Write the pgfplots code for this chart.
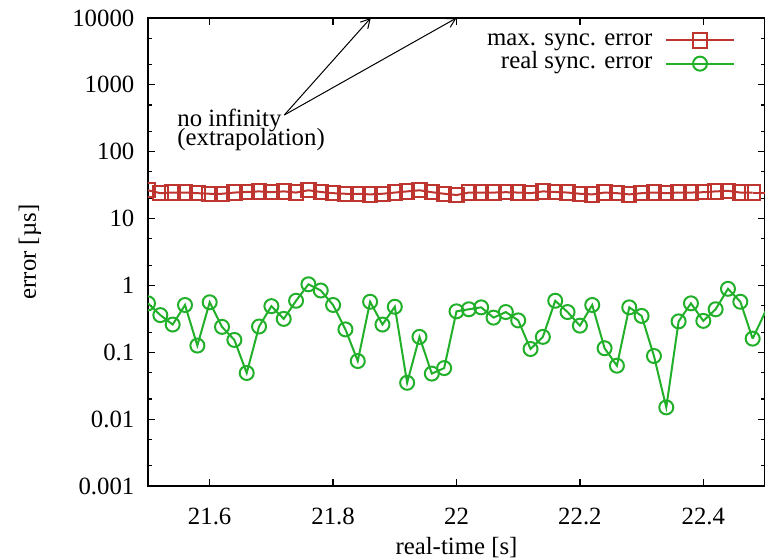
\documentclass[border=0pt]{standalone}
\usepackage{pgfplots}
\pgfplotsset{compat=1.18}
\usepackage{fontspec}
\setmainfont{Liberation Serif}
\usetikzlibrary{arrows.meta}
\definecolor{gpred}{RGB}{190,52,46}
\definecolor{gpgreen}{RGB}{34,176,42}
\newcommand{\gpfont}{\fontsize{12.4pt}{14.8pt}\selectfont}
\begin{document}
\begin{tikzpicture}[font=\gpfont]
\begin{axis}[
  scale only axis,
  width=308.5pt, height=234pt,
  ymode=log,
  xmin=21.5, xmax=22.5,
  ymin=0.001, ymax=10000,
  xtick={21.6,21.8,22,22.2,22.4},
  xticklabels={21.6,21.8,22,22.2,22.4},
  ytick={0.001,0.01,0.1,1,10,100,1000,10000},
  yticklabels={0.001,0.01,0.1,1,10,100,1000,10000},
  minor ytick={0.002,0.005,0.02,0.05,0.2,0.5,2,5,20,50,200,500,2000,5000},
  minor xtick={},
  /pgf/number format/assume math mode=true,
  tick align=inside,
  major tick length=3.75pt,
  minor tick length=2pt,
  every tick/.style={black, line width=0.6pt},
  axis line style={line width=0.75pt},
  tick label style={font=\gpfont},
  xticklabel style={yshift=-7.5pt},
  yticklabel style={xshift=-3.3pt},
  xlabel={real-time [s]},
  ylabel={error [µs]},
  every axis x label/.style={at={(axis description cs:0.5,-0.1325)}, anchor=center, font=\gpfont},
  every axis y label/.style={at={(axis description cs:-0.1912,0.5)}, anchor=center, rotate=90, font=\gpfont},
  clip mode=individual,
  clip marker paths=true,
  legend plot pos=right,
  legend cell align=right,
  legend image code/.code={\draw[mark repeat=2,mark phase=2,#1] plot coordinates {(0cm,0cm) (0.59cm,0cm) (1.18cm,0cm)};},
  legend style={at={(axis description cs:0.9514,0.978)}, anchor=north east, draw=none, fill=none,
    inner sep=0pt, column sep=6.5pt, row sep=0pt, font=\gpfont,
    nodes={inner sep=0pt, text height=8.4pt, text depth=3.25pt}},
]
\addplot[gpred, line width=1pt, mark=square, mark size=3.6pt, mark options={line width=1pt}] coordinates {
(21.50,26.5) (21.52,24) (21.54,24.5) (21.56,24.5) (21.58,24) (21.60,23.5) (21.62,23.5) (21.64,24.5)
(21.66,25) (21.68,25.5) (21.70,24.8) (21.72,25.5) (21.74,24.5) (21.76,26.5) (21.78,25) (21.80,24)
(21.82,23.5) (21.84,23.5) (21.86,23) (21.88,23.5) (21.90,24.5) (21.92,25.5) (21.94,26.5) (21.96,24.8)
(21.98,23.5) (22.00,22.5) (22.02,24.5) (22.04,24.5) (22.06,24.5) (22.08,24.8) (22.10,24.5) (22.12,24)
(22.14,25.5) (22.16,25) (22.18,24.5) (22.20,23.5) (22.22,23) (22.24,24.5) (22.26,24) (22.28,23)
(22.30,24) (22.32,24.5) (22.34,24) (22.36,24.5) (22.38,24.5) (22.40,24.8) (22.42,25.5) (22.44,26)
(22.46,24.5) (22.48,24.5)
};
\addlegendentry{max. sync. error}
\addplot[gpgreen, line width=1pt, mark=o, mark size=3.5pt, mark options={line width=1pt}] coordinates {
(21.50,0.54) (21.52,0.36) (21.54,0.26) (21.56,0.51) (21.58,0.126) (21.60,0.56) (21.62,0.24) (21.64,0.153)
(21.66,0.049) (21.68,0.243) (21.70,0.49) (21.72,0.316) (21.74,0.59) (21.76,1.04) (21.78,0.84) (21.80,0.51)
(21.82,0.22) (21.84,0.074) (21.86,0.57) (21.88,0.26) (21.90,0.48) (21.92,0.035) (21.94,0.17) (21.96,0.048)
(21.98,0.058) (22.00,0.41) (22.02,0.44) (22.04,0.47) (22.06,0.33) (22.08,0.40) (22.10,0.30) (22.12,0.112)
(22.14,0.17) (22.16,0.59) (22.18,0.40) (22.20,0.25) (22.22,0.51) (22.24,0.115) (22.26,0.063) (22.28,0.47)
(22.30,0.35) (22.32,0.088) (22.34,0.015) (22.36,0.29) (22.38,0.54) (22.40,0.295) (22.42,0.44) (22.44,0.89)
(22.46,0.57) (22.48,0.16)
};
\addlegendentry{real sync. error}
\addplot[gpred, line width=1pt, no marks, forget plot] coordinates {(22.48,24.5) (22.52,24.5)};
\addplot[gpgreen, line width=1pt, no marks, forget plot] coordinates {(22.48,0.16) (22.52,0.98)};
\node[anchor=base west, inner sep=0pt, align=left, font=\gpfont] at (axis cs:21.547,126) {no infinity\\[-5.6pt](extrapolation)};
\draw[line width=0.5pt, -{Straight Barb[length=4.5pt,width=5pt]}] (axis cs:21.7209,354) -- (axis cs:21.861,10000);
\draw[line width=0.5pt, -{Straight Barb[length=4.5pt,width=5pt]}] (axis cs:21.7209,354) -- (axis cs:22.0,10000);
\end{axis}
\pgfresetboundingbox
\path[use as bounding box] ([xshift=-74pt,yshift=-36pt]current axis.south west) rectangle ([yshift=9pt]current axis.north east);
\end{tikzpicture}
\end{document}
